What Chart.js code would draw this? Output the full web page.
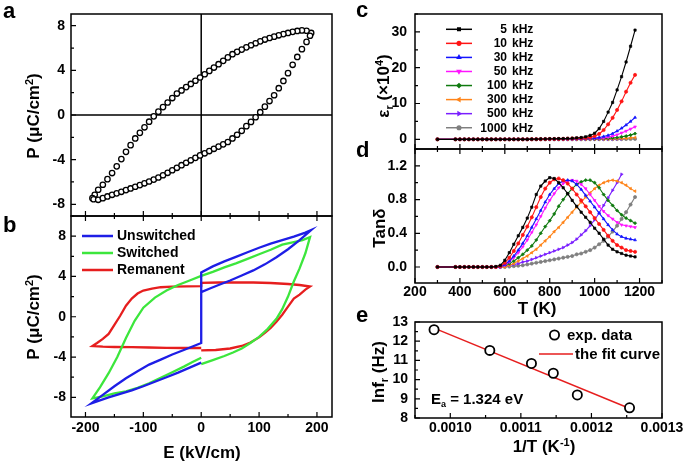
<!DOCTYPE html>
<html>
<head>
<meta charset="utf-8">
<script src="https://cdn.jsdelivr.net/npm/chart.js@4.4.1/dist/chart.umd.min.js"></script>
<style>
  body { margin: 0; background: #fff; width: 685px; height: 462px; overflow: hidden; position: relative; }
  canvas { position: absolute; }
</style>
</head>
<body>
<canvas id="pa"></canvas>
<canvas id="pb"></canvas>
<canvas id="pc"></canvas>
<canvas id="pd"></canvas>
<canvas id="pe"></canvas>
<script>
// ---- panel a : P-E loop (open circles) ----
const loopUpE = [190,182,174,166,158,150,142,134,126,118,110,102,94,86,78,70,62,54,46,38,30,22,14,6,-2,-10,-18,-26,-34,-42,-50,-58,-66,-74,-82,-90,-98,-106,-114,-122,-130,-138,-146,-154,-162,-170,-178,-184,-188];
const loopUpP = [7.35,7.55,7.58,7.53,7.45,7.35,7.25,7.14,7.02,6.9,6.76,6.6,6.43,6.25,6.06,5.86,5.66,5.45,5.16,4.85,4.55,4.25,3.95,3.65,3.36,3.07,2.78,2.5,2.2,1.92,1.52,1.12,0.71,0.3,-0.12,-0.6,-1.1,-1.6,-2.1,-2.7,-3.3,-3.95,-4.6,-5.2,-5.75,-6.25,-6.7,-7.15,-7.45];
const loopLowE = [-186,-178,-170,-162,-154,-146,-138,-130,-122,-114,-106,-98,-90,-82,-74,-66,-58,-50,-42,-34,-26,-18,-10,-2,6,14,22,30,38,46,54,62,70,78,86,94,102,110,118,126,134,142,150,158,166,174,182,188];
const loopLowP = [-7.55,-7.6,-7.45,-7.3,-7.15,-7.02,-6.88,-6.73,-6.58,-6.43,-6.28,-6.12,-5.96,-5.79,-5.6,-5.4,-5.18,-4.95,-4.73,-4.5,-4.28,-4.06,-3.84,-3.62,-3.43,-3.23,-3.03,-2.83,-2.63,-2.42,-2.1,-1.77,-1.42,-1.0,-0.62,-0.2,0.25,0.75,1.25,1.77,2.4,3.05,3.75,4.5,5.2,5.9,6.55,7.1];

// ---- panel b : PUND loops ----
const unsE = [0,-20,-40,-60,-80,-100,-120,-140,-160,-180,-190,-170,-150,-130,-110,-90,-70,-50,-30,-15,0,0,20,40,60,80,100,120,140,160,180,190,170,150,130,110,90,70,50,30,15,0];
const unsP = [-4.55,-5.05,-5.55,-6.0,-6.45,-6.9,-7.3,-7.65,-8.0,-8.4,-8.6,-7.75,-6.9,-6.1,-5.4,-4.75,-4.25,-3.75,-3.3,-2.95,-2.6,4.4,5.0,5.5,5.95,6.4,6.85,7.25,7.6,7.95,8.35,8.6,7.6,6.7,5.9,5.2,4.6,4.1,3.6,3.15,2.8,2.45];
const swE = [0,20,40,55,70,85,100,115,130,140,150,160,170,180,188,175,160,140,120,100,80,60,40,20,0,-20,-40,-60,-80,-100,-115,-130,-145,-160,-175,-188,-170,-150,-130,-110,-90,-70,-50,-30,-15,0];
const swP = [-4.7,-4.3,-3.9,-3.55,-3.15,-2.6,-2.0,-1.2,-0.2,0.75,2.0,3.5,4.8,6.3,7.9,7.6,7.4,7.15,6.65,6.2,5.75,5.3,4.9,4.45,4.05,3.6,3.15,2.6,1.9,0.9,-0.4,-2.1,-4.0,-5.6,-7.0,-8.1,-7.9,-7.6,-7.4,-7.05,-6.6,-6.05,-5.5,-4.95,-4.5,-4.06];
const remE = [0,-30,-60,-90,-120,-150,-170,-188,-180,-170,-160,-150,-140,-130,-120,-110,-100,-85,-70,-50,-25,0,0,30,60,90,120,150,170,188,180,170,160,150,140,130,120,110,100,85,70,50,25,0];
const remP = [-3.1,-3.1,-3.08,-3.05,-3.02,-3.0,-2.97,-2.9,-2.6,-2.2,-1.7,-0.8,0.1,1.1,1.8,2.3,2.6,2.8,2.93,3.0,3.02,3.03,3.37,3.4,3.42,3.4,3.35,3.25,3.15,3.0,2.7,2.2,1.8,1.0,0.2,-0.5,-1.1,-1.6,-2.05,-2.55,-2.9,-3.15,-3.3,-3.34];

// ---- panels c, d : temperature sweeps ----
const tempK = [300,380,400,420,440,460,480,500,520,540,560,580,600,620,640,660,680,700,720,740,760,780,800,820,840,860,880,900,920,940,960,980,1000,1020,1040,1060,1080,1100,1120,1140,1160,1180];
const freqKHz = ['5','10','30','50','100','300','500','1000'];

// permittivity (x10^4)
const eps5    = [0,0,0,0,0,0,0,0,0,0,0,0,0,0,0,0,0,0,0.05,0.05,0.1,0.1,0.15,0.15,0.2,0.2,0.25,0.3,0.4,0.5,0.7,1.1,1.7,3.0,5.0,7.6,10.3,13.8,17.5,21.6,26,30.5];
const eps10   = [0,0,0,0,0,0,0,0,0,0,0,0,0,0,0,0,0,0,0.03,0.05,0.05,0.08,0.1,0.1,0.12,0.15,0.2,0.25,0.3,0.35,0.4,0.55,0.9,1.5,2.6,4.2,6.0,8.2,10.6,13.3,15.8,18.0];
const eps30   = [0,0,0,0,0,0,0,0,0,0,0,0,0,0,0,0,0,0,0.02,0.03,0.04,0.05,0.06,0.07,0.08,0.1,0.12,0.14,0.17,0.2,0.25,0.3,0.35,0.5,0.8,1.1,1.6,2.3,3.1,4.0,5.0,6.1];
const eps50   = [0,0,0,0,0,0,0,0,0,0,0,0,0,0,0,0,0,0,0.02,0.02,0.03,0.03,0.04,0.05,0.06,0.07,0.08,0.1,0.12,0.14,0.16,0.2,0.25,0.3,0.4,0.6,0.9,1.3,1.8,2.3,2.9,3.5];
const eps100  = [0,0,0,0,0,0,0,0,0,0,0,0,0,0,0,0,0,0,0.01,0.01,0.02,0.02,0.03,0.03,0.04,0.05,0.06,0.07,0.08,0.1,0.12,0.14,0.16,0.2,0.25,0.3,0.4,0.5,0.7,0.9,1.2,1.6];
const eps300  = [0,0,0,0,0,0,0,0,0,0,0,0,0,0,0,0,0,0,0.01,0.01,0.01,0.01,0.02,0.02,0.02,0.03,0.03,0.04,0.04,0.05,0.06,0.07,0.08,0.09,0.1,0.12,0.15,0.18,0.22,0.3,0.4,0.5];
const eps500  = [0,0,0,0,0,0,0,0,0,0,0,0,0,0,0,0,0,0,0.01,0.01,0.01,0.01,0.01,0.02,0.02,0.02,0.02,0.03,0.03,0.03,0.04,0.04,0.05,0.06,0.07,0.08,0.09,0.11,0.13,null,null,null];
const eps1000 = [0,0,0,0,0,0,0,0,0,0,0,0,0,0,0,0,0,0,0,0,0,0.01,0.01,0.01,0.01,0.01,0.02,0.02,0.02,0.02,0.03,0.03,0.03,0.04,0.04,0.05,0.05,0.06,0.07,0.08,0.1,0.12];

// loss tangent
const tan5    = [0,0,0,0,0,0,0,0,0,0,0.005,0.02,0.08,0.17,0.27,0.37,0.47,0.58,0.71,0.86,0.96,1.02,1.06,1.05,1.0,0.94,0.87,0.79,0.72,0.65,0.59,0.53,0.46,0.40,0.33,0.26,0.21,0.18,0.16,0.14,0.13,0.12];
const tan10   = [0,0,0,0,0,0,0,0,0,0,0,0.01,0.05,0.11,0.19,0.28,0.38,0.48,0.59,0.71,0.83,0.93,1.0,1.04,1.05,1.03,0.99,0.93,0.86,0.79,0.72,0.65,0.58,0.51,0.44,0.37,0.31,0.26,0.23,0.2,0.19,0.18];
const tan30   = [0,0,0,0,0,0,0,0,0,0,0,0,0.03,0.07,0.13,0.2,0.28,0.37,0.47,0.57,0.67,0.77,0.86,0.93,0.99,1.02,1.03,1.02,0.98,0.92,0.85,0.78,0.71,0.64,0.57,0.5,0.44,0.39,0.36,0.34,0.33,0.32];
const tan50   = [0,0,0,0,0,0,0,0,0,0,0,0,0.02,0.06,0.11,0.17,0.24,0.32,0.41,0.5,0.6,0.7,0.79,0.87,0.94,0.99,1.02,1.03,1.02,0.98,0.93,0.86,0.79,0.72,0.66,0.61,0.57,0.53,0.5,0.49,0.48,0.47];
const tan100  = [0,0,0,0,0,0,0,0,0,0,0,0,0.02,0.04,0.07,0.11,0.15,0.2,0.25,0.32,0.4,0.48,0.55,0.63,0.72,0.8,0.87,0.93,0.98,1.01,1.03,1.03,1.0,0.94,0.86,0.79,0.73,0.67,0.62,0.58,0.55,0.52];
const tan300  = [0,0,0,0,0,0,0,0,0,0,0,0,0,0.02,0.04,0.07,0.1,0.13,0.17,0.21,0.26,0.31,0.36,0.42,0.47,0.53,0.59,0.65,0.71,0.77,0.83,0.88,0.93,0.97,1.0,1.02,1.03,1.02,1.0,0.97,0.93,0.9];
const tan500  = [0,0,0,0,0,0,0,0,0,0,0,0,0.01,0.02,0.03,0.04,0.06,0.07,0.09,0.11,0.13,0.15,0.17,0.19,0.21,0.23,0.26,0.29,0.33,0.38,0.43,0.49,0.56,0.64,0.73,0.82,0.91,1.0,1.1,null,null,null];
const tan1000 = [0,0,0,0,0,0,0,0,0,0,0,0,0,0.005,0.01,0.015,0.02,0.03,0.04,0.05,0.06,0.07,0.08,0.09,0.1,0.11,0.12,0.13,0.15,0.16,0.18,0.2,0.23,0.27,0.31,0.36,0.42,0.49,0.57,0.65,0.74,0.83];

// ---- panel e : Arrhenius plot ----
const invT = [0.000977, 0.001056, 0.001115, 0.001146, 0.00118, 0.001254];
const lnF = [12.6, 11.52, 10.84, 10.33, 9.2, 8.53];
const fitX = [0.000977, 0.001256];
const fitY = [12.68, 8.47];

// tick labels
const ticksPa = [-8, -4, 0, 4, 8];
const ticksEb = [-200, -100, 0, 100, 200];
const ticksT = [200, 400, 600, 800, 1000, 1200];
const ticksEps = [0, 10, 20, 30];
const ticksTan = [0, 0.4, 0.8, 1.2];
const ticksInvT = [0.0010, 0.0011, 0.0012, 0.0013];
const ticksLnF = [8, 9, 10, 11, 12, 13];

// ---- styling ----
const FONT = '"Liberation Sans", Arial, sans-serif';
Chart.defaults.font.family = FONT;
Chart.defaults.font.size = 14;
Chart.defaults.font.weight = 'bold';
Chart.defaults.color = '#000';

const seriesColors = ['#000000', '#ff1414', '#1414ff', '#ff14ff', '#0f7a0f', '#ff8419', '#7a1eff', '#7f7f7f'];
const seriesPoint = [['rect', 0], ['circle', 0], ['triangle', 0], ['triangle', 180], ['rectRot', 0], ['triangle', -90], ['triangle', 90], ['circle', 0]];

const pts = (xs, ys) => xs.map((x, i) => ({ x, y: ys[i] }));

function rich(ctx, parts, x, y, size, opts = {}) {
  ctx.save();
  ctx.translate(x, y);
  if (opts.rotate) ctx.rotate(opts.rotate);
  ctx.fillStyle = '#000';
  ctx.textBaseline = 'alphabetic';
  ctx.textAlign = 'left';
  const f = m => `bold ${m ? Math.round(size * 0.62) : size}px ${FONT}`;
  const w = parts.map(([t, m]) => { ctx.font = f(m); return ctx.measureText(t).width; });
  const total = w.reduce((a, b) => a + b, 0);
  let cx = opts.align === 'left' ? 0 : -total / 2;
  parts.forEach(([t, m], i) => {
    ctx.font = f(m);
    const dy = m === 'sup' ? -size * 0.38 : m === 'sub' ? size * 0.2 : 0;
    ctx.fillText(t, cx, size * 0.36 + dy);
    cx += w[i];
  });
  ctx.restore();
}

function label(ctx, t, x, y) {
  ctx.font = `bold 22px ${FONT}`;
  ctx.fillStyle = '#000';
  ctx.textAlign = 'left';
  ctx.textBaseline = 'alphabetic';
  ctx.fillText(t, x, y);
}

// box frame + inward tick marks
const framePlugin = {
  id: 'frame',
  beforeDatasetsDraw(chart, args, o) {
    if (!o.cross) return;
    const { ctx, chartArea: a, scales: { x, y } } = chart;
    ctx.save();
    ctx.strokeStyle = '#000';
    ctx.lineWidth = 1.5;
    ctx.beginPath();
    ctx.moveTo(x.getPixelForValue(0), a.top); ctx.lineTo(x.getPixelForValue(0), a.bottom);
    ctx.moveTo(a.left, y.getPixelForValue(0)); ctx.lineTo(a.right, y.getPixelForValue(0));
    ctx.stroke();
    ctx.restore();
  },
  afterDatasetsDraw(chart, args, o) {
    const { ctx, chartArea: a, scales } = chart;
    ctx.save();
    ctx.strokeStyle = '#000';
    ctx.lineWidth = 1.5;
    ctx.strokeRect(a.left, a.top, a.right - a.left, a.bottom - a.top);
    ctx.lineWidth = 1.2;
    ctx.beginPath();
    ['x', 'y'].forEach(id => {
      const t = o[id];
      if (!t) return;
      const s = scales[id];
      for (let k = Math.ceil(s.min / t.minor - 1e-6); k * t.minor <= s.max + t.minor * 1e-6; k++) {
        const v = k * t.minor;
        const r = v / t.major;
        const len = Math.abs(r - Math.round(r)) < 1e-6 ? 5 : 3;
        const p = s.getPixelForValue(v);
        if (id === 'x') {
          if (t.sides.includes('b')) { ctx.moveTo(p, a.bottom); ctx.lineTo(p, a.bottom - len); }
          if (t.sides.includes('t')) { ctx.moveTo(p, a.top); ctx.lineTo(p, a.top + len); }
        } else {
          if (t.sides.includes('l')) { ctx.moveTo(a.left, p); ctx.lineTo(a.left + len, p); }
        }
      }
    });
    ctx.stroke();
    ctx.restore();
  }
};

function axis(min, max, tickVals, pad, fmt) {
  return {
    type: 'linear', min, max,
    grid: { display: false, drawTicks: false },
    border: { display: false },
    ticks: { display: tickVals.length > 0, padding: pad, autoSkip: false, maxRotation: 0, callback: fmt || (v => String(v)) },
    afterBuildTicks: s => { s.ticks = tickVals.map(v => ({ value: v })); }
  };
}

function panel(id, box, plot, datasets, sx, sy, frame, draw) {
  const cv = document.getElementById(id);
  cv.width = box.w; cv.height = box.h;
  cv.style.left = box.x + 'px'; cv.style.top = box.y + 'px';
  return new Chart(cv, {
    type: 'scatter',
    data: { datasets },
    options: {
      responsive: false, animation: false, events: [],
      layout: { padding: { top: plot.t - box.y, right: box.x + box.w - plot.r, left: 0, bottom: 0 } },
      plugins: { legend: { display: false }, tooltip: { enabled: false }, frame },
      scales: {
        // fixed sizes so the plot areas line up with the figure
        x: { ...sx, position: 'bottom', afterFit: s => { s.height = box.y + box.h - plot.b; s.paddingLeft = 0; s.paddingRight = 0; } },
        y: { ...sy, position: 'left', afterFit: s => { s.width = plot.l - box.x; s.paddingTop = 0; s.paddingBottom = 0; } }
      }
    },
    plugins: [framePlugin, {
      id: id + 'Text',
      afterDraw(chart) {
        const ctx = chart.ctx;
        ctx.save();
        ctx.translate(-box.x, -box.y);
        draw(ctx);
        ctx.restore();
      }
    }]
  });
}

const ROT = -Math.PI / 2;
const pTitle = [['P (', ''], ['\u03bc', ''], ['C/cm', ''], ['2', 'sup'], [')', '']];

// ---- a ----
panel('pa', { x: 0, y: 0, w: 340, h: 226 }, { l: 71, t: 14, r: 332, b: 216 },
  [{
    data: pts(loopUpE.concat(loopLowE), loopUpP.concat(loopLowP)),
    pointStyle: 'circle', pointRadius: 2.7, borderWidth: 1.3,
    borderColor: '#000', backgroundColor: '#fff', showLine: false
  }],
  axis(-225, 226, [], 0),
  axis(-9.05, 9.05, ticksPa, 6),
  { cross: true, x: { major: 100, minor: 50, sides: 'b' }, y: { major: 4, minor: 2, sides: 'l' } },
  ctx => {
    label(ctx, 'a', 3, 18);
    rich(ctx, pTitle, 33, 116, 17, { rotate: ROT });
  });

// ---- b ----
const loopLine = (xs, ys, color) => ({
  data: pts(xs, ys), showLine: true, borderColor: color, borderWidth: 2.3,
  pointRadius: 0, tension: 0, fill: false
});
const bColors = ['#1e1ee6', '#3ce63c', '#e61e1e'];
const bNames = ['Unswitched', 'Switched', 'Remanent'];
panel('pb', { x: 0, y: 200, w: 340, h: 262 }, { l: 71, t: 216, r: 332, b: 417 },
  [loopLine(unsE, unsP, bColors[0]), loopLine(swE, swP, bColors[1]), loopLine(remE, remP, bColors[2])],
  axis(-225, 226, ticksEb, 3),
  axis(-9.95, 10, ticksPa, 5),
  { x: { major: 100, minor: 50, sides: 'tb' }, y: { major: 4, minor: 2, sides: 'l' } },
  ctx => {
    label(ctx, 'b', 3, 232);
    rich(ctx, pTitle, 33, 317, 17, { rotate: ROT });
    rich(ctx, [['E (kV/cm)', '']], 202, 452, 17);
    bNames.forEach((n, i) => {
      const yy = 236 + i * 17;
      ctx.strokeStyle = bColors[i];
      ctx.lineWidth = 2.5;
      ctx.beginPath(); ctx.moveTo(82, yy); ctx.lineTo(113, yy); ctx.stroke();
      ctx.fillStyle = '#000';
      ctx.font = `bold 14px ${FONT}`;
      ctx.textAlign = 'left'; ctx.textBaseline = 'middle';
      ctx.fillText(n, 117, yy + 0.5);
    });
  });

// ---- c, d ----
const tSeries = (vals, i) => ({
  data: pts(tempK, vals), showLine: true, borderColor: seriesColors[i], backgroundColor: seriesColors[i],
  borderWidth: 1.1, pointStyle: seriesPoint[i][0], pointRotation: seriesPoint[i][1],
  pointRadius: 1.6, pointBorderWidth: 0.7, tension: 0
});
const epsAll = [eps5, eps10, eps30, eps50, eps100, eps300, eps500, eps1000];
const tanAll = [tan5, tan10, tan30, tan50, tan100, tan300, tan500, tan1000];

panel('pc', { x: 340, y: 0, w: 345, h: 160 }, { l: 415, t: 14, r: 662, b: 149 },
  epsAll.map(tSeries),
  axis(200, 1300, [], 0),
  axis(-2.7, 35, ticksEps, 8),
  { x: { major: 200, minor: 100, sides: 'b' }, y: { major: 10, minor: 5, sides: 'l' } },
  ctx => {
    label(ctx, 'c', 356, 17);
    rich(ctx, [['\u03b5', ''], ['r', 'sub'], [' (\u00d710', ''], ['4', 'sup'], [')', '']], 383, 86, 17, { rotate: ROT });
    freqKHz.forEach((f, i) => {
      const yy = 29.3 + i * 14.06;
      ctx.strokeStyle = seriesColors[i];
      ctx.fillStyle = seriesColors[i];
      ctx.lineWidth = 1.5;
      ctx.beginPath(); ctx.moveTo(446, yy); ctx.lineTo(472, yy); ctx.stroke();
      Chart.helpers.drawPoint(ctx, { pointStyle: seriesPoint[i][0], rotation: seriesPoint[i][1], radius: 1.8, borderWidth: 0.7 }, 459, yy);
      ctx.fillStyle = '#000';
      ctx.font = `bold 12px ${FONT}`;
      ctx.textBaseline = 'middle';
      ctx.textAlign = 'right';
      ctx.fillText(f, 507, yy + 0.5);
      ctx.textAlign = 'left';
      ctx.fillText('kHz', 512, yy + 0.5);
    });
  });

panel('pd', { x: 340, y: 135, w: 345, h: 185 }, { l: 415, t: 149, r: 662, b: 283 },
  tanAll.map(tSeries),
  axis(200, 1300, ticksT, 1),
  axis(-0.19, 1.4, ticksTan, 8, v => v.toFixed(1)),
  { x: { major: 200, minor: 100, sides: 'tb' }, y: { major: 0.4, minor: 0.2, sides: 'l' } },
  ctx => {
    label(ctx, 'd', 356, 157);
    rich(ctx, [['Tan\u03b4', '']], 379, 228, 17, { rotate: ROT });
    rich(ctx, [['T (K)', '']], 537, 308, 17);
  });

// ---- e ----
panel('pe', { x: 340, y: 300, w: 345, h: 162 }, { l: 415, t: 322, r: 662, b: 418 },
  [
    { data: pts(invT, lnF), pointStyle: 'circle', pointRadius: 4.6, borderWidth: 1.8, borderColor: '#000', backgroundColor: '#fff', showLine: false },
    { data: pts(fitX, fitY), showLine: true, borderColor: '#e61e1e', borderWidth: 1.5, pointRadius: 0 }
  ],
  axis(0.00095, 0.0013, ticksInvT, 1.5, v => v.toFixed(4)),
  axis(8, 13, ticksLnF, 7),
  { x: { major: 0.0001, minor: 0.00005, sides: 'b' }, y: { major: 1, minor: 0.5, sides: 'l' } },
  ctx => {
    label(ctx, 'e', 356, 322);
    rich(ctx, [['lnf', ''], ['r', 'sub'], [' (Hz)', '']], 378, 372, 17, { rotate: ROT });
    rich(ctx, [['1/T (K', ''], ['-1', 'sup'], [')', '']], 544, 446, 17);
    rich(ctx, [['E', ''], ['a', 'sub'], [' = 1.324 eV', '']], 431, 399, 15, { align: 'left' });
    ctx.strokeStyle = '#000'; ctx.lineWidth = 1.8;
    ctx.beginPath(); ctx.arc(554.5, 335, 4.6, 0, Math.PI * 2); ctx.stroke();
    ctx.strokeStyle = '#e61e1e'; ctx.lineWidth = 1.5;
    ctx.beginPath(); ctx.moveTo(539, 354); ctx.lineTo(573, 354); ctx.stroke();
    ctx.fillStyle = '#000';
    ctx.font = `bold 15px ${FONT}`;
    ctx.textAlign = 'left'; ctx.textBaseline = 'middle';
    ctx.fillText('exp. data', 567, 335.5);
    ctx.fillText('the fit curve', 575, 354.5);
  });
</script>
</body>
</html>
